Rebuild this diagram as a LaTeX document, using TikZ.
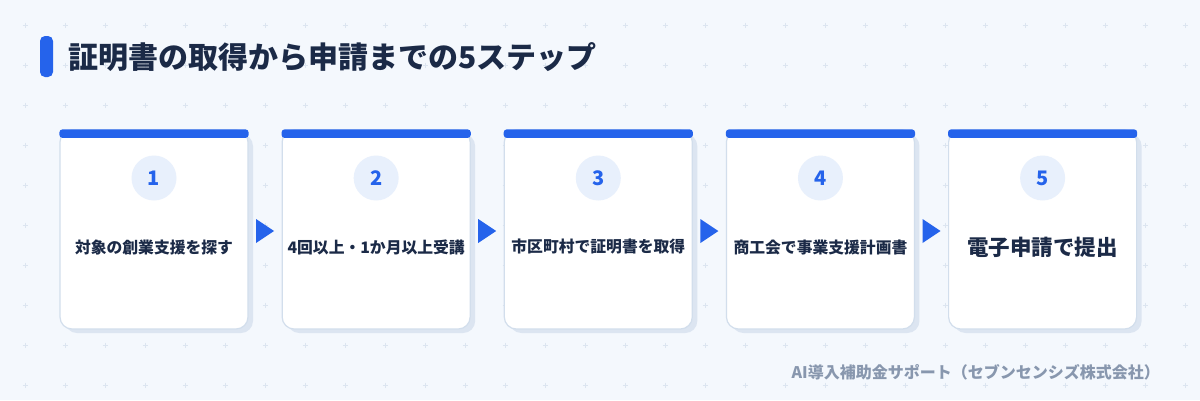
\documentclass[tikz,border=0pt]{standalone}
\usepackage{fontspec}
\setmainfont{Noto Sans CJK JP}
\usetikzlibrary{calc}
\definecolor{bg}{HTML}{F4F8FD}
\definecolor{gridc}{HTML}{DCE5F0}
\definecolor{accent}{HTML}{2563EB}
\definecolor{navy}{HTML}{1B2A47}
\definecolor{cardline}{HTML}{D2DEEC}
\definecolor{shadowc}{HTML}{DCE5F1}
\definecolor{circfill}{HTML}{E8F0FC}
\definecolor{footc}{HTML}{8897AE}
\begin{document}
\begin{tikzpicture}[x=1pt,y=-1pt,
  card/.style={draw=cardline, line width=1.2pt, fill=white, rounded corners=12pt,
    minimum width=188pt, minimum height=199pt, inner sep=0pt},
  numcirc/.style={circle, fill=circfill, minimum size=45pt, inner sep=0pt,
    text=accent, font=\fontsize{20}{24}\selectfont\bfseries},
  steplabel/.style={text=navy, font=\fontsize{15.8}{18}\selectfont\bfseries, inner sep=0pt},
  biglabel/.style={text=navy, font=\fontsize{21.5}{26}\selectfont\bfseries, inner sep=0pt}]
\useasboundingbox (0,0) rectangle (1200,400);
\fill[bg] (0,0) rectangle (1200,400);
% grid of pluses
\foreach \i in {0,...,29}{
  \foreach \j in {0,...,9}{
    \draw[gridc, line width=0.7pt] (25+40*\i-2.5,25+40*\j) -- ++(5,0)
      (25+40*\i,25+40*\j-2.5) -- ++(0,5);
  }
}
% title
\fill[accent, rounded corners=5pt] (40,36) rectangle (53,77);
\node[anchor=west, text=navy, inner sep=0pt, font=\fontsize{30}{34}\selectfont\bfseries] (title) at (68,57) {証明書の取得から申請までの5ステップ};
% cards
\foreach \k/\num/\txt/\sty in {1/1/対象の創業支援を探す/steplabel,
  2/2/4回以上・1か月以上受講/steplabel,
  3/3/市区町村で証明書を取得/steplabel,
  4/4/商工会で事業支援計画書/steplabel,
  5/5/電子申請で提出/biglabel}{
  \pgfmathsetmacro{\cx}{154+222.15*(\k-1)}
  \fill[shadowc, rounded corners=12pt] (\cx-94+5,130+4) rectangle (\cx+94+5,329+4);
  \node[card] (c\k) at (\cx,229.5) {};
  \fill[accent, rounded corners=3pt] (c\k.north west) rectangle ($(c\k.north east)+(0,8.5)$);
  \node[numcirc] (n\k) at (\cx,178) {\num};
  \node[\sty] (t\k) at (\cx,247) {\txt};
}
% arrows
\foreach \a/\b in {1/2,2/3,3/4,4/5}{
  \coordinate (m\a) at ($(c\a.east)!0.5!(c\b.west)+(0,1.5)$);
  \fill[accent] ($(m\a)+(-9,-12)$) -- ($(m\a)+(9,0)$) -- ($(m\a)+(-9,12)$) -- cycle;
}
% footer
\node[anchor=east, text=footc, inner sep=0pt, font=\fontsize{16}{19}\selectfont\bfseries] (foot) at (1160,372) {AI導入補助金サポート（セブンセンシズ株式会社）};
\end{tikzpicture}
\end{document}
